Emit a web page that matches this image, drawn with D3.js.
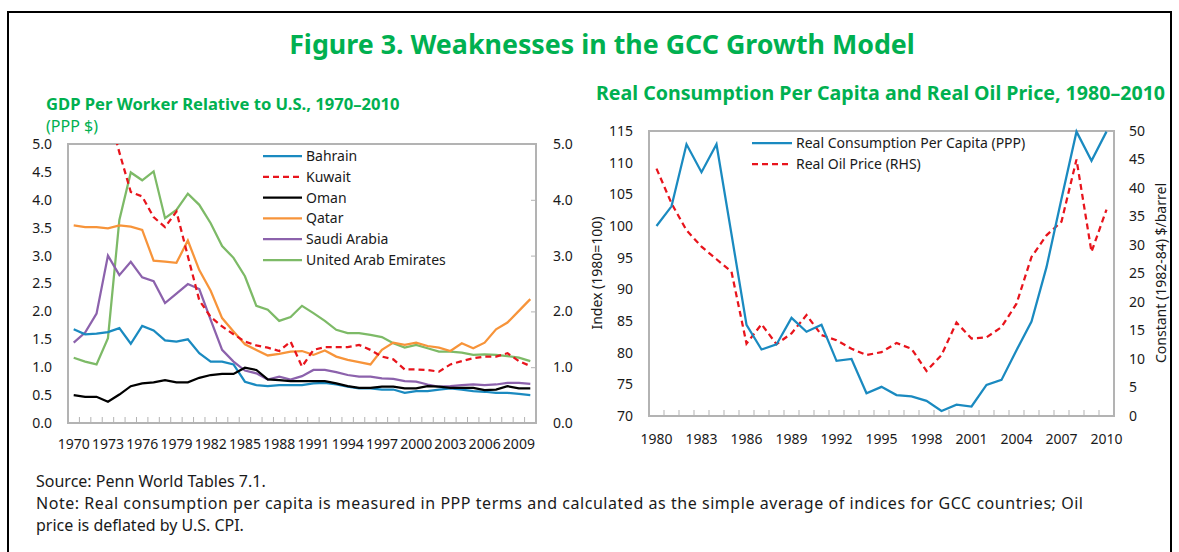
<!DOCTYPE html>
<html>
<head>
<meta charset="utf-8">
<script src="https://cdn.jsdelivr.net/npm/d3@7"></script>
<style>
  body { margin: 0; background: #fff; }
  text { font-family: "Noto Sans", sans-serif; }
</style>
</head>
<body>
<script>
// ---- data: GDP per worker relative to U.S. (left panel)
var years = [1970,1971,1972,1973,1974,1975,1976,1977,1978,1979,1980,1981,1982,1983,1984,1985,1986,1987,1988,1989,
             1990,1991,1992,1993,1994,1995,1996,1997,1998,1999,2000,2001,2002,2003,2004,2005,2006,2007,2008,2009,2010];
var yearTicks = [1970,1973,1976,1979,1982,1985,1988,1991,1994,1997,2000,2003,2006,2009];

var bahrain = [1.68,1.59,1.60,1.63,1.70,1.42,1.74,1.66,1.48,1.46,1.50,
               1.25,1.10,1.10,1.05,0.74,0.68,0.66,0.68,0.68,0.68,
               0.71,0.72,0.69,0.65,0.62,0.62,0.60,0.60,0.54,0.57,
               0.57,0.60,0.62,0.60,0.57,0.56,0.54,0.54,0.52,0.50];
var kuwait = [null,null,null,5.6,4.85,4.14,4.06,3.69,3.51,3.79,2.99,
              2.20,1.90,1.73,1.59,1.46,1.39,1.35,1.29,1.46,1.01,
              1.31,1.36,1.36,1.36,1.40,1.31,1.19,1.14,0.96,0.96,
              0.95,0.92,1.05,1.11,1.16,1.19,1.19,1.25,1.11,1.02];
var oman = [0.50,0.47,0.47,0.38,0.51,0.66,0.71,0.73,0.77,0.73,0.73,
            0.81,0.86,0.88,0.88,0.99,0.95,0.78,0.77,0.75,0.75,
            0.75,0.75,0.71,0.66,0.63,0.63,0.65,0.65,0.62,0.62,
            0.66,0.65,0.63,0.63,0.63,0.59,0.60,0.66,0.62,0.62];
var qatar = [3.54,3.51,3.51,3.49,3.54,3.52,3.46,2.91,2.89,2.87,3.27,
             2.74,2.37,1.88,1.64,1.41,1.31,1.21,1.24,1.28,1.29,
             1.22,1.30,1.19,1.13,1.09,1.05,1.31,1.44,1.40,1.44,
             1.38,1.35,1.29,1.43,1.34,1.44,1.68,1.80,2.01,2.22];
var saudi = [1.44,1.62,1.96,3.00,2.65,2.89,2.61,2.54,2.15,2.32,2.49,
             2.40,1.85,1.31,1.10,0.94,0.89,0.78,0.83,0.78,0.84,
             0.95,0.95,0.91,0.86,0.83,0.83,0.80,0.79,0.75,0.74,
             0.69,0.65,0.66,0.68,0.69,0.68,0.69,0.72,0.72,0.70];
var uae = [1.17,1.10,1.05,1.52,3.64,4.49,4.35,4.51,3.67,3.82,4.11,
           3.91,3.58,3.17,2.96,2.63,2.10,2.03,1.83,1.90,2.10,
           1.97,1.83,1.67,1.61,1.61,1.58,1.54,1.43,1.35,1.40,
           1.34,1.28,1.28,1.26,1.22,1.23,1.22,1.20,1.17,1.11];
var countryNames = ["Bahrain","Kuwait","Oman","Qatar","Saudi Arabia","United Arab Emirates"];
var leftTicks = [0,0.5,1,1.5,2,2.5,3,3.5,4,4.5,5];
var leftRightTicks = [0,1,2,3,4,5];

// ---- data: consumption and oil price (right panel)
var years2 = [1980,1981,1982,1983,1984,1985,1986,1987,1988,1989,1990,1991,1992,1993,1994,1995,
              1996,1997,1998,1999,2000,2001,2002,2003,2004,2005,2006,2007,2008,2009,2010];
var yearTicks2 = [1980,1983,1986,1989,1992,1995,1998,2001,2004,2007,2010];
var consumption = [100.0,103.1,112.9,108.5,112.9,98.7,84.4,80.5,81.3,85.5,
                   83.3,84.4,78.7,79.0,73.6,74.6,73.3,73.1,72.4,70.8,
                   71.8,71.5,74.9,75.7,80.4,84.9,93.5,104.3,114.9,110.3,114.9];
var oilPrice = [43.4,37.3,32.6,29.7,27.5,25.3,12.7,16.1,12.6,14.5,
                17.7,14.2,13.3,11.8,10.7,11.2,12.8,11.8,7.9,10.7,
                16.4,13.6,13.8,15.6,19.7,27.9,31.7,34.1,45.0,28.8,36.2];
var indexTicks = [70,75,80,85,90,95,100,105,110,115];
var oilTicks = [0,5,10,15,20,25,30,35,40,45,50];
var seriesNames2 = ["Real Consumption  Per Capita (PPP)", "Real Oil Price (RHS)"];

var W = 1179, H = 552;
var green = "#00b050", grid = "#b3b3b3", ink = "#1a1a1a";

var svg = d3.select("body").append("svg").attr("width", W).attr("height", H);

// outer frame
svg.append("rect").attr("x", 8).attr("y", 12).attr("width", 1163).attr("height", 560)
    .attr("fill", "none").attr("stroke", "#000").attr("stroke-width", 2);

svg.append("text").attr("x", 602).attr("y", 54).attr("text-anchor", "middle")
    .attr("fill", green).style("font-size", "26.8px").style("font-weight", "bold")
    .text("Figure 3. Weaknesses in the GCC Growth Model");

function styleAxis(g) {
    g.select(".domain").remove();
    g.selectAll("text").attr("fill", ink).style("font-size", "14px");
}

function boundaryTicks(g, x, cats, yBase) {
    g.append("g").selectAll("line").data(cats.slice(1)).enter().append("line")
        .attr("x1", function (d) { return x(d); })
        .attr("x2", function (d) { return x(d); })
        .attr("y1", yBase).attr("y2", yBase - 6)
        .attr("stroke", grid).attr("stroke-width", 1);
}

// ===== left panel =====
var L = { left: 68, right: 536, top: 144, bottom: 423 };
svg.append("text").attr("x", 46).attr("y", 110).attr("fill", green)
    .style("font-size", "16.6px").style("font-weight", "bold")
    .text("GDP Per Worker Relative to U.S., 1970–2010");
svg.append("text").attr("x", 46).attr("y", 132).attr("fill", green)
    .style("font-size", "16px").text("(PPP $)");

var x1 = d3.scaleBand().domain(years).range([L.left, L.right]);
var y1 = d3.scaleLinear().domain([0, 5]).range([L.bottom, L.top]);

svg.append("rect").attr("x", L.left).attr("y", L.top)
    .attr("width", L.right - L.left).attr("height", L.bottom - L.top)
    .attr("fill", "none").attr("stroke", grid).attr("stroke-width", 2);

svg.append("g").attr("transform", "translate(" + L.left + ",0)")
    .call(d3.axisLeft(y1).tickValues(leftTicks).tickSize(0).tickPadding(16).tickFormat(d3.format(".1f")))
    .call(styleAxis);
svg.append("g").attr("transform", "translate(" + L.right + ",0)")
    .call(d3.axisRight(y1).tickValues(leftRightTicks).tickSizeInner(-5).tickSizeOuter(0).tickPadding(17).tickFormat(d3.format(".1f")))
    .call(styleAxis)
    .selectAll("line").attr("stroke", grid);
svg.append("g").attr("transform", "translate(0," + L.bottom + ")")
    .call(d3.axisBottom(x1).tickValues(yearTicks).tickSize(0).tickPadding(16))
    .call(styleAxis);
boundaryTicks(svg, x1, years, L.bottom);

svg.append("clipPath").attr("id", "clipL").append("rect")
    .attr("x", L.left).attr("y", L.top).attr("width", L.right - L.left).attr("height", L.bottom - L.top);

var countries = [
    { name: countryNames[0], values: bahrain, color: "#1a8ac0", dash: null },
    { name: countryNames[1], values: kuwait, color: "#e8141c", dash: "6,4" },
    { name: countryNames[2], values: oman, color: "#000000", dash: null },
    { name: countryNames[3], values: qatar, color: "#f7943a", dash: null },
    { name: countryNames[4], values: saudi, color: "#8c62ac", dash: null },
    { name: countryNames[5], values: uae, color: "#7dba67", dash: null }
];
var drawOrder = [5, 3, 4, 0, 2, 1];

var line1 = d3.line()
    .defined(function (d) { return d != null; })
    .x(function (d, i) { return x1(years[i]) + x1.bandwidth() / 2; })
    .y(function (d) { return y1(d); });

var gL = svg.append("g").attr("clip-path", "url(#clipL)");
drawOrder.forEach(function (k) {
    var c = countries[k];
    gL.append("path").attr("d", line1(c.values))
        .attr("fill", "none").attr("stroke", c.color).attr("stroke-width", 2.25)
        .attr("stroke-dasharray", c.dash);
});

var legL = svg.append("g");
countries.forEach(function (c, i) {
    var yy = 156 + i * 20.8;
    legL.append("line").attr("x1", 263).attr("x2", 302).attr("y1", yy).attr("y2", yy)
        .attr("stroke", c.color).attr("stroke-width", 2.25).attr("stroke-dasharray", c.dash);
    legL.append("text").attr("x", 306).attr("y", yy + 5).attr("fill", ink)
        .style("font-size", "14px").text(c.name);
});

// ===== right panel =====
var R = { left: 649, right: 1114, top: 131, bottom: 416 };
svg.append("text").attr("x", 596).attr("y", 100).attr("fill", green)
    .style("font-size", "19.6px").style("font-weight", "bold")
    .text("Real Consumption Per Capita and Real Oil Price, 1980–2010");

var x2 = d3.scaleBand().domain(years2).range([R.left, R.right]);
var y2 = d3.scaleLinear().domain([70, 115]).range([R.bottom, R.top]);
var y3 = d3.scaleLinear().domain([0, 50]).range([R.bottom, R.top]);

svg.append("rect").attr("x", R.left).attr("y", R.top)
    .attr("width", R.right - R.left).attr("height", R.bottom - R.top)
    .attr("fill", "none").attr("stroke", grid).attr("stroke-width", 2);

svg.append("g").attr("transform", "translate(" + R.left + ",0)")
    .call(d3.axisLeft(y2).tickValues(indexTicks).tickSize(0).tickPadding(16))
    .call(styleAxis);
svg.append("g").attr("transform", "translate(" + R.right + ",0)")
    .call(d3.axisRight(y3).tickValues(oilTicks).tickSize(0).tickPadding(15))
    .call(styleAxis);
svg.append("g").attr("transform", "translate(0," + R.bottom + ")")
    .call(d3.axisBottom(x2).tickValues(yearTicks2).tickSize(0).tickPadding(18))
    .call(styleAxis);
boundaryTicks(svg, x2, years2, R.bottom);

svg.append("text").attr("transform", "translate(602,273) rotate(-90)")
    .attr("text-anchor", "middle").attr("fill", ink).style("font-size", "14px")
    .text("Index (1980=100)");
svg.append("text").attr("transform", "translate(1166,273) rotate(-90)")
    .attr("text-anchor", "middle").attr("fill", ink).style("font-size", "14px")
    .text("Constant (1982-84) $/barrel");

var cx2 = function (d, i) { return x2(years2[i]) + x2.bandwidth() / 2; };
svg.append("path")
    .attr("d", d3.line().x(cx2).y(function (d) { return y3(d); })(oilPrice))
    .attr("fill", "none").attr("stroke", "#e8141c").attr("stroke-width", 2.25)
    .attr("stroke-dasharray", "6,4");
svg.append("path")
    .attr("d", d3.line().x(cx2).y(function (d) { return y2(d); })(consumption))
    .attr("fill", "none").attr("stroke", "#1a8ac0").attr("stroke-width", 2.25);

var legR = [{ color: "#1a8ac0", dash: null }, { color: "#e8141c", dash: "6,4" }];
legR.forEach(function (s, i) {
    var yy = 143 + i * 21;
    svg.append("line").attr("x1", 752).attr("x2", 792).attr("y1", yy).attr("y2", yy)
        .attr("stroke", s.color).attr("stroke-width", 2.25).attr("stroke-dasharray", s.dash);
    svg.append("text").attr("x", 796).attr("y", yy + 5).attr("fill", ink)
        .style("font-size", "14px").text(seriesNames2[i]);
});

// ===== footer =====
var notes = [
    "Source: Penn World Tables 7.1.",
    "Note: Real consumption per capita is measured in PPP terms and calculated as the simple average of indices for GCC countries; Oil",
    "price is deflated by U.S. CPI."
];
var foot = svg.append("g").selectAll("text").data(notes).enter().append("text")
    .attr("x", 36).attr("y", function (d, i) { return 487 + i * 22; })
    .attr("fill", ink).style("font-size", "16px")
    .text(function (d) { return d; });
// the long note line is stretched to the reference width
foot.filter(function (d, i) { return i == 1; })
    .attr("textLength", 1047).attr("lengthAdjust", "spacing");
</script>
</body>
</html>
